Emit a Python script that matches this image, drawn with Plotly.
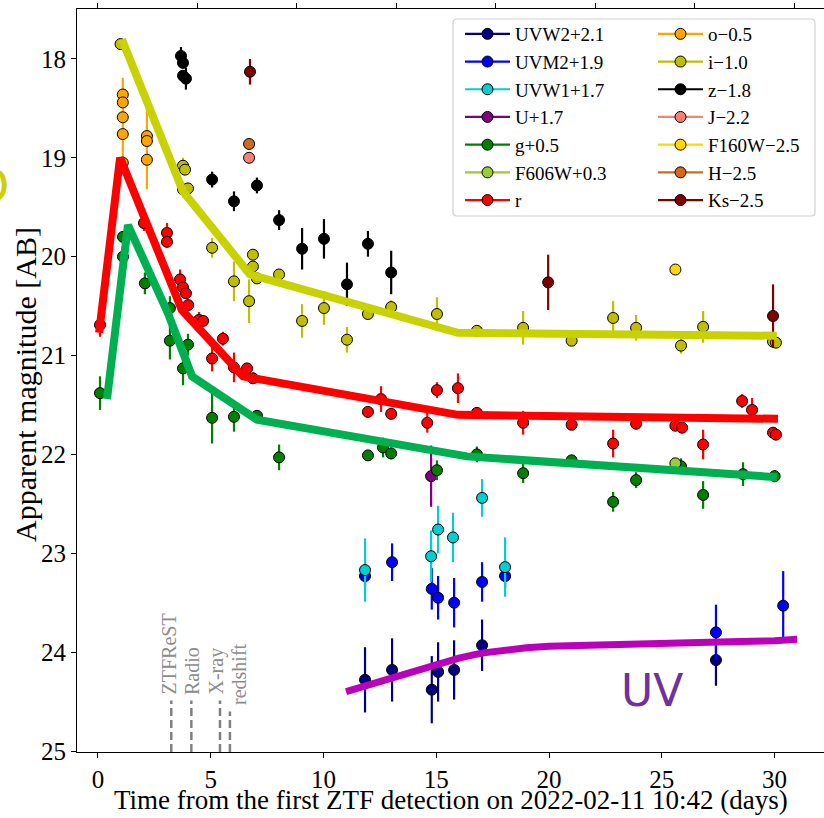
import plotly.graph_objects as go

# ---------------- data ----------------
uvw2_t = [11.84, 13.04, 14.80, 15.08, 15.79, 17.03, 27.40]
uvw2_m = [24.28, 24.18, 24.38, 24.20, 24.18, 23.93, 24.08]
uvw2_e = [0.33, 0.32, 0.34, 0.30, 0.30, 0.26, 0.26]

uvm2_t = [11.84, 13.04, 14.80, 15.08, 15.79, 17.03, 18.05, 27.40, 30.38]
uvm2_m = [23.23, 23.09, 23.36, 23.45, 23.50, 23.29, 23.23, 23.80, 23.53]
uvm2_e = [0.10, 0.19, 0.21, 0.22, 0.25, 0.20, 0.12, 0.28, 0.35]

uvw1_t = [11.84, 14.77, 15.08, 15.74, 17.03, 18.05]
uvw1_m = [23.17, 23.03, 22.76, 22.84, 22.44, 23.14]
uvw1_e = [0.32, 0.26, 0.24, 0.25, 0.19, 0.30]

u_t = [14.77]
u_m = [22.22]
u_e = [0.31]

g_t = [0.09, 1.11, 1.11, 2.08, 3.19, 3.19, 3.77, 3.99, 5.06, 6.03, 7.05, 8.03,
       11.97, 12.64, 13.00, 15.03, 16.80, 18.85, 21.00, 22.84, 23.86, 25.85,
       26.83, 28.60, 30.00]
g_m = [21.38, 19.80, 20.00, 20.27, 20.52, 20.85, 21.13, 20.89, 21.63, 21.62, 21.61, 22.03,
       22.01, 21.93, 21.99, 22.16, 22.00, 22.19, 22.06, 22.48, 22.26, 22.12,
       22.41, 22.20, 22.22]
g_e = [0.17, 0.05, 0.05, 0.11, 0.12, 0.19, 0.17, 0.11, 0.26, 0.15, 0.05, 0.13,
       0.05, 0.10, 0.06, 0.10, 0.08, 0.10, 0.05, 0.10, 0.08, 0.08,
       0.14, 0.12, 0.06]

f606w_t = [25.60]
f606w_m = [22.09]
f606w_e = [0.04]

r_t = [0.09, 2.04, 3.06, 3.06, 3.64, 3.77, 3.90, 4.00, 4.48, 4.66, 5.06, 5.54, 6.03,
       6.61, 6.87, 11.97, 12.55, 13.00, 14.60, 15.03, 15.96, 16.80, 18.85, 21.00,
       22.84, 23.86, 25.60, 25.90, 26.83, 28.56, 29.00, 29.93, 30.06]
r_m = [20.69, 19.66, 19.76, 19.85, 20.23, 20.31, 20.37, 20.49, 20.64, 20.65, 21.03, 20.83, 21.12,
       21.13, 21.23, 21.57, 21.44, 21.59, 21.68, 21.35, 21.33, 21.58, 21.68, 21.70,
       21.89, 21.69, 21.71, 21.73, 21.90, 21.46, 21.55, 21.78, 21.80]
r_e = [0.12, 0.08, 0.10, 0.05, 0.10, 0.05, 0.05, 0.05, 0.08, 0.05, 0.13, 0.07, 0.15,
       0.05, 0.05, 0.04, 0.13, 0.04, 0.10, 0.08, 0.15, 0.05, 0.12, 0.04,
       0.14, 0.05, 0.05, 0.05, 0.15, 0.07, 0.12, 0.05, 0.05]

o_t = [1.10, 1.10, 1.10, 1.10, 1.10, 2.17, 2.17, 2.17]
o_m = [18.36, 18.44, 18.59, 18.76, 19.05, 18.78, 18.83, 19.02]
o_e = [0.05, 0.05, 0.40, 0.05, 0.05, 0.28, 0.05, 0.30]

i_t = [1.00, 3.77, 3.86, 3.77, 3.99, 5.06, 6.03, 6.70, 6.87, 6.87, 7.05, 8.03, 9.05,
       10.02, 11.04, 11.97, 13.00, 15.03, 16.80, 18.85, 21.00, 22.84, 23.86, 25.85,
       26.83, 29.93, 30.06]
i_m = [17.85, 19.08, 19.12, 19.32, 19.31, 19.91, 20.25, 20.45, 19.98, 20.10, 20.22, 20.18, 20.65,
       20.52, 20.84, 20.58, 20.51, 20.58, 20.75, 20.72, 20.85, 20.62, 20.72, 20.90,
       20.71, 20.86, 20.87]
i_e = [0.05, 0.08, 0.05, 0.08, 0.05, 0.10, 0.20, 0.22, 0.05, 0.05, 0.05, 0.05, 0.17,
       0.17, 0.13, 0.05, 0.07, 0.17, 0.05, 0.17, 0.04, 0.17, 0.13, 0.08,
       0.16, 0.05, 0.05]

z_t = [3.68, 3.77, 3.77, 3.90, 5.06, 6.03, 7.05, 8.03, 9.05, 10.02, 11.04, 11.97, 13.00]
z_m = [17.97, 18.04, 18.17, 18.20, 19.22, 19.44, 19.28, 19.63, 19.92, 19.82, 20.28, 19.87, 20.16]
z_e = [0.09, 0.05, 0.05, 0.11, 0.08, 0.10, 0.08, 0.10, 0.21, 0.20, 0.22, 0.13, 0.22]

j_t = [6.70]
j_m = [19.00]
j_e = [0.03]

f160w_t = [25.60]
f160w_m = [20.13]
f160w_e = [0.02]

h_t = [6.70]
h_m = [18.86]
h_e = [0.03]

ks_t = [6.74, 19.96, 29.93]
ks_m = [18.13, 20.26, 20.60]
ks_e = [0.13, 0.28, 0.32]

# model curves
imod_t = [1.06, 3.77, 6.74, 15.96, 30.10]
imod_m = [17.80, 19.34, 20.18, 20.77, 20.80]
rmod_t = [0.05, 0.98, 3.72, 6.43, 15.96, 30.15]
rmod_m = [20.77, 19.00, 20.54, 21.21, 21.60, 21.64]
gmod_t = [0.40, 1.33, 3.10, 4.17, 7.05, 16.36, 30.10]
gmod_m = [21.44, 19.68, 20.57, 21.21, 21.65, 22.02, 22.23]
uvmod_t = [11.0, 12.0, 13.0, 14.0, 15.0, 16.0, 17.0, 18.0, 19.0, 20.0, 22.0, 24.0, 26.0, 28.0, 30.0, 31.0]
uvmod_m = [24.40, 24.33, 24.26, 24.19, 24.12, 24.06, 24.01, 23.98, 23.955, 23.94, 23.925, 23.915,
           23.905, 23.895, 23.885, 23.87]

# event markers
event_t = [3.25, 4.14, 5.41, 5.85]
event_labels = ["ZTFReST", "Radio", "X-ray", "redshift"]

x_ticks = [0, 5, 10, 15, 20, 25, 30]
y_ticks = [18, 19, 20, 21, 22, 23, 24, 25]
rest_ticks = [0, 2, 4, 6, 8, 10, 12, 14]
time_dilation = 2.205

bands = [
    ("UVW2+2.1", "#000080", uvw2_t, uvw2_m, uvw2_e, "legend"),
    ("UVM2+1.9", "#0000ff", uvm2_t, uvm2_m, uvm2_e, "legend"),
    ("UVW1+1.7", "#00ced1", uvw1_t, uvw1_m, uvw1_e, "legend"),
    ("U+1.7", "#800080", u_t, u_m, u_e, "legend"),
    ("g+0.5", "#008000", g_t, g_m, g_e, "legend"),
    ("F606W+0.3", "#9acd32", f606w_t, f606w_m, f606w_e, "legend"),
    ("r", "#ff0000", r_t, r_m, r_e, "legend"),
    ("o\u22120.5", "#ffa500", o_t, o_m, o_e, "legend2"),
    ("i\u22121.0", "#bfbf00", i_t, i_m, i_e, "legend2"),
    ("z\u22121.8", "#000000", z_t, z_m, z_e, "legend2"),
    ("J\u22122.2", "#fa8072", j_t, j_m, j_e, "legend2"),
    ("F160W\u22122.5", "#ffd700", f160w_t, f160w_m, f160w_e, "legend2"),
    ("H\u22122.5", "#d2691e", h_t, h_m, h_e, "legend2"),
    ("Ks\u22122.5", "#800000", ks_t, ks_m, ks_e, "legend2"),
]

fig = go.Figure()

# data points
for name, col, t, m, e, lg in bands:
    fig.add_trace(go.Scatter(
        x=t, y=m, mode="markers", showlegend=False,
        marker=dict(size=11, color=col, line=dict(color="black", width=1)),
        error_y=dict(type="data", array=e, visible=True, color=col, thickness=2.2, width=0),
    ))

# models (drawn on top)
for t, m, col, w in [(uvmod_t, uvmod_m, "#bb00bb", 7), (gmod_t, gmod_m, "#00b050", 8),
                     (rmod_t, rmod_m, "#ff0000", 8), (imod_t, imod_m, "#c8d200", 8)]:
    fig.add_trace(go.Scatter(x=t, y=m, mode="lines", showlegend=False, hoverinfo="skip",
                             line=dict(color=col, width=w)))

# event dashed lines
for tt in event_t:
    top = 24.60 if tt > 5.6 else 24.49
    fig.add_trace(go.Scatter(x=[tt, tt], y=[25.01, top], mode="lines", showlegend=False,
                             line=dict(color="gray", width=2.5, dash="8px,4px")))

# legend-only entries
for name, col, t, m, e, lg in bands:
    fig.add_trace(go.Scatter(
        x=[None], y=[None], mode="lines+markers", name=name, legend=lg,
        line=dict(color=col, width=2.2),
        marker=dict(size=11, color=col, line=dict(color="black", width=1)),
    ))

# top axis trace for rest-frame ticks
fig.add_trace(go.Scatter(x=[None], y=[None], xaxis="x2", showlegend=False))

PW, PH = 747, 743
L, T = 77, 9


def px(xp):
    return (xp - L) / PW


def py(yp):
    return (T + PH - yp) / PH


serif = "Liberation Serif"
annotations = []
label_pos = [(168, 697), (192, 697), (216, 697), (239, 707)]
for lab, (xp, yp) in zip(event_labels, label_pos):
    annotations.append(dict(xref="paper", yref="paper", x=px(xp), y=py(yp), text=lab,
                            textangle=-90, xanchor="center", yanchor="bottom", showarrow=False,
                            font=dict(family=serif, size=20, color="#8c8c8c")))
annotations.append(dict(xref="x", yref="y", x=24.57, y=24.39, text="UV", showarrow=False,
                        xanchor="center", yanchor="middle",
                        font=dict(family="DejaVu Sans", size=44, color="#7030a0")))
annotations.append(dict(xref="paper", yref="paper", x=px(11), y=py(186), text="O", showarrow=False,
                        xanchor="right", yanchor="middle",
                        font=dict(family="DejaVu Sans", size=46, color="#c8d200")))
annotations.append(dict(xref="paper", yref="paper", x=0.5, y=py(800),
                        text="Time from the first ZTF detection on 2022-02-11 10:42 (days)",
                        showarrow=False, xanchor="center", yanchor="middle",
                        font=dict(family=serif, size=27, color="black")))
annotations.append(dict(xref="paper", yref="paper", x=px(25), y=py(385),
                        text="Apparent magnitude [AB]", textangle=-90,
                        showarrow=False, xanchor="center", yanchor="middle",
                        font=dict(family=serif, size=30, color="black")))

# rounded legend frame
x0, x1 = px(453), px(815)
y0, y1 = py(216), py(19)
rx, ry = 4 / PW, 4 / PH
path = (f"M{x0+rx},{y0} L{x1-rx},{y0} Q{x1},{y0} {x1},{y0+ry} L{x1},{y1-ry} Q{x1},{y1} {x1-rx},{y1} "
        f"L{x0+rx},{y1} Q{x0},{y1} {x0},{y1-ry} L{x0},{y0+ry} Q{x0},{y0} {x0+rx},{y0} Z")

legend_common = dict(bgcolor="rgba(0,0,0,0)", borderwidth=0, itemwidth=45,
                     font=dict(family=serif, size=19, color="black"),
                     xanchor="left", yanchor="top", tracegroupgap=0)

fig.update_layout(
    width=824, height=818,
    margin=dict(l=L, r=0, t=T, b=818 - T - PH),
    paper_bgcolor="white", plot_bgcolor="white",
    xaxis=dict(range=[-0.93, 32.19], tickvals=x_ticks, ticktext=[str(v) for v in x_ticks],
               ticks="outside", ticklen=5, tickwidth=1.2, tickcolor="black",
               showline=True, linecolor="black", linewidth=1.2, showgrid=False, zeroline=False,
               tickfont=dict(family=serif, size=25, color="black")),
    xaxis2=dict(overlaying="x", side="top", matches="x", tickvals=[v * time_dilation for v in rest_ticks],
                showticklabels=False, ticks="outside", ticklen=5, tickwidth=1.2, tickcolor="black",
                showline=True, linecolor="black", linewidth=1.2, showgrid=False, zeroline=False),
    yaxis=dict(range=[25.01, 17.495], tickvals=y_ticks, ticktext=[str(v) for v in y_ticks],
               ticks="outside", ticklen=5, tickwidth=1.2, tickcolor="black",
               showline=True, linecolor="black", linewidth=1.2, showgrid=False, zeroline=False,
               tickfont=dict(family=serif, size=25, color="black")),
    legend=dict(x=px(460), y=py(15), **legend_common),
    legend2=dict(x=px(653), y=py(15), **legend_common),
    annotations=annotations,
    shapes=[dict(type="path", xref="paper", yref="paper", path=path,
                 line=dict(color="#d0d0d0", width=1.2), fillcolor="rgba(255,255,255,0.8)",
                 layer="below")],
)

fig.write_html("out.html")
